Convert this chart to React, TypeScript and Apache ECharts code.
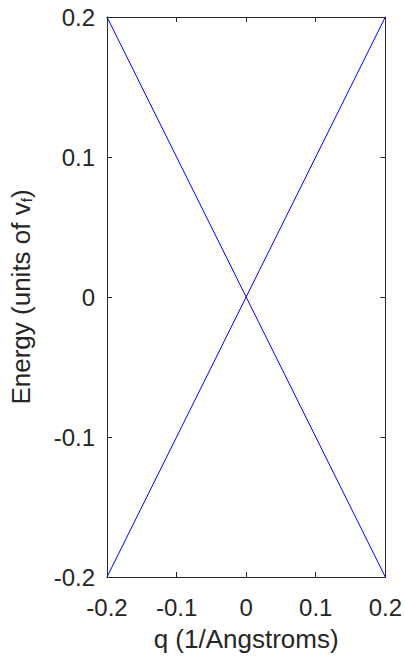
import React, { useEffect, useRef } from "react";
import * as echarts from "echarts";

const qRange = [-0.2, 0.2];
const energyRange = [-0.2, 0.2];
const rising = [
  [-0.2, -0.2],
  [0.2, 0.2],
];
const falling = [
  [-0.2, 0.2],
  [0.2, -0.2],
];
const tickInterval = 0.1;

const axisColor = "#262626";
const font = "'Liberation Sans', Arial, Helvetica, sans-serif";

export default function App() {
  const ref = useRef<HTMLDivElement>(null);
  useEffect(() => {
    const chart = echarts.init(ref.current!, null, { renderer: "svg" });
    const baseAxis = {
      interval: tickInterval,
      axisLine: { show: true, onZero: false, lineStyle: { color: axisColor, width: 1 } },
      axisTick: { show: true, inside: true, length: 5, lineStyle: { color: axisColor } },
      splitLine: { show: false },
    };
    const xBase = { ...baseAxis, type: "value", min: qRange[0], max: qRange[1] };
    const yBase = { ...baseAxis, type: "value", min: energyRange[0], max: energyRange[1] };
    chart.setOption({
      animation: false,
      backgroundColor: "#ffffff",
      grid: { left: 105.5, right: 19, top: 17, bottom: 80 },
      xAxis: [
        {
          ...xBase,
          position: "bottom",
          axisLabel: { color: "#262626", fontSize: 24, fontFamily: font, margin: 18 },
          name: "q (1/Angstroms)",
          nameLocation: "middle",
          nameGap: 49,
          nameTextStyle: { color: "#262626", fontSize: 26, fontFamily: font },
        },
        {
          ...xBase,
          position: "top",
          axisLabel: { show: false },
        },
      ],
      yAxis: [
        {
          ...yBase,
          position: "left",
          axisLabel: { color: "#262626", fontSize: 24, fontFamily: font, margin: 12 },
          name: "Energy (units of v{sub|f})",
          nameLocation: "middle",
          nameGap: 73,
          nameRotate: 90,
          nameTextStyle: {
            color: "#262626",
            fontSize: 26,
            fontFamily: font,
            rich: {
              sub: { fontSize: 15, fontFamily: font, color: "#262626", verticalAlign: "bottom", padding: [11, 0, 0, 0] },
            },
          },
        },
        {
          ...yBase,
          position: "right",
          axisLabel: { show: false },
        },
      ],
      series: [
        {
          type: "line",
          data: falling,
          symbol: "none",
          lineStyle: { color: "#0000ff", width: 1 },
        },
        {
          type: "line",
          data: rising,
          symbol: "none",
          lineStyle: { color: "#0000ff", width: 1 },
        },
      ],
    });
    return () => chart.dispose();
  }, []);
  return (
    <div
      ref={ref}
      style={{ position: "fixed", left: 0, top: 0, width: 405, height: 657 }}
    />
  );
}
